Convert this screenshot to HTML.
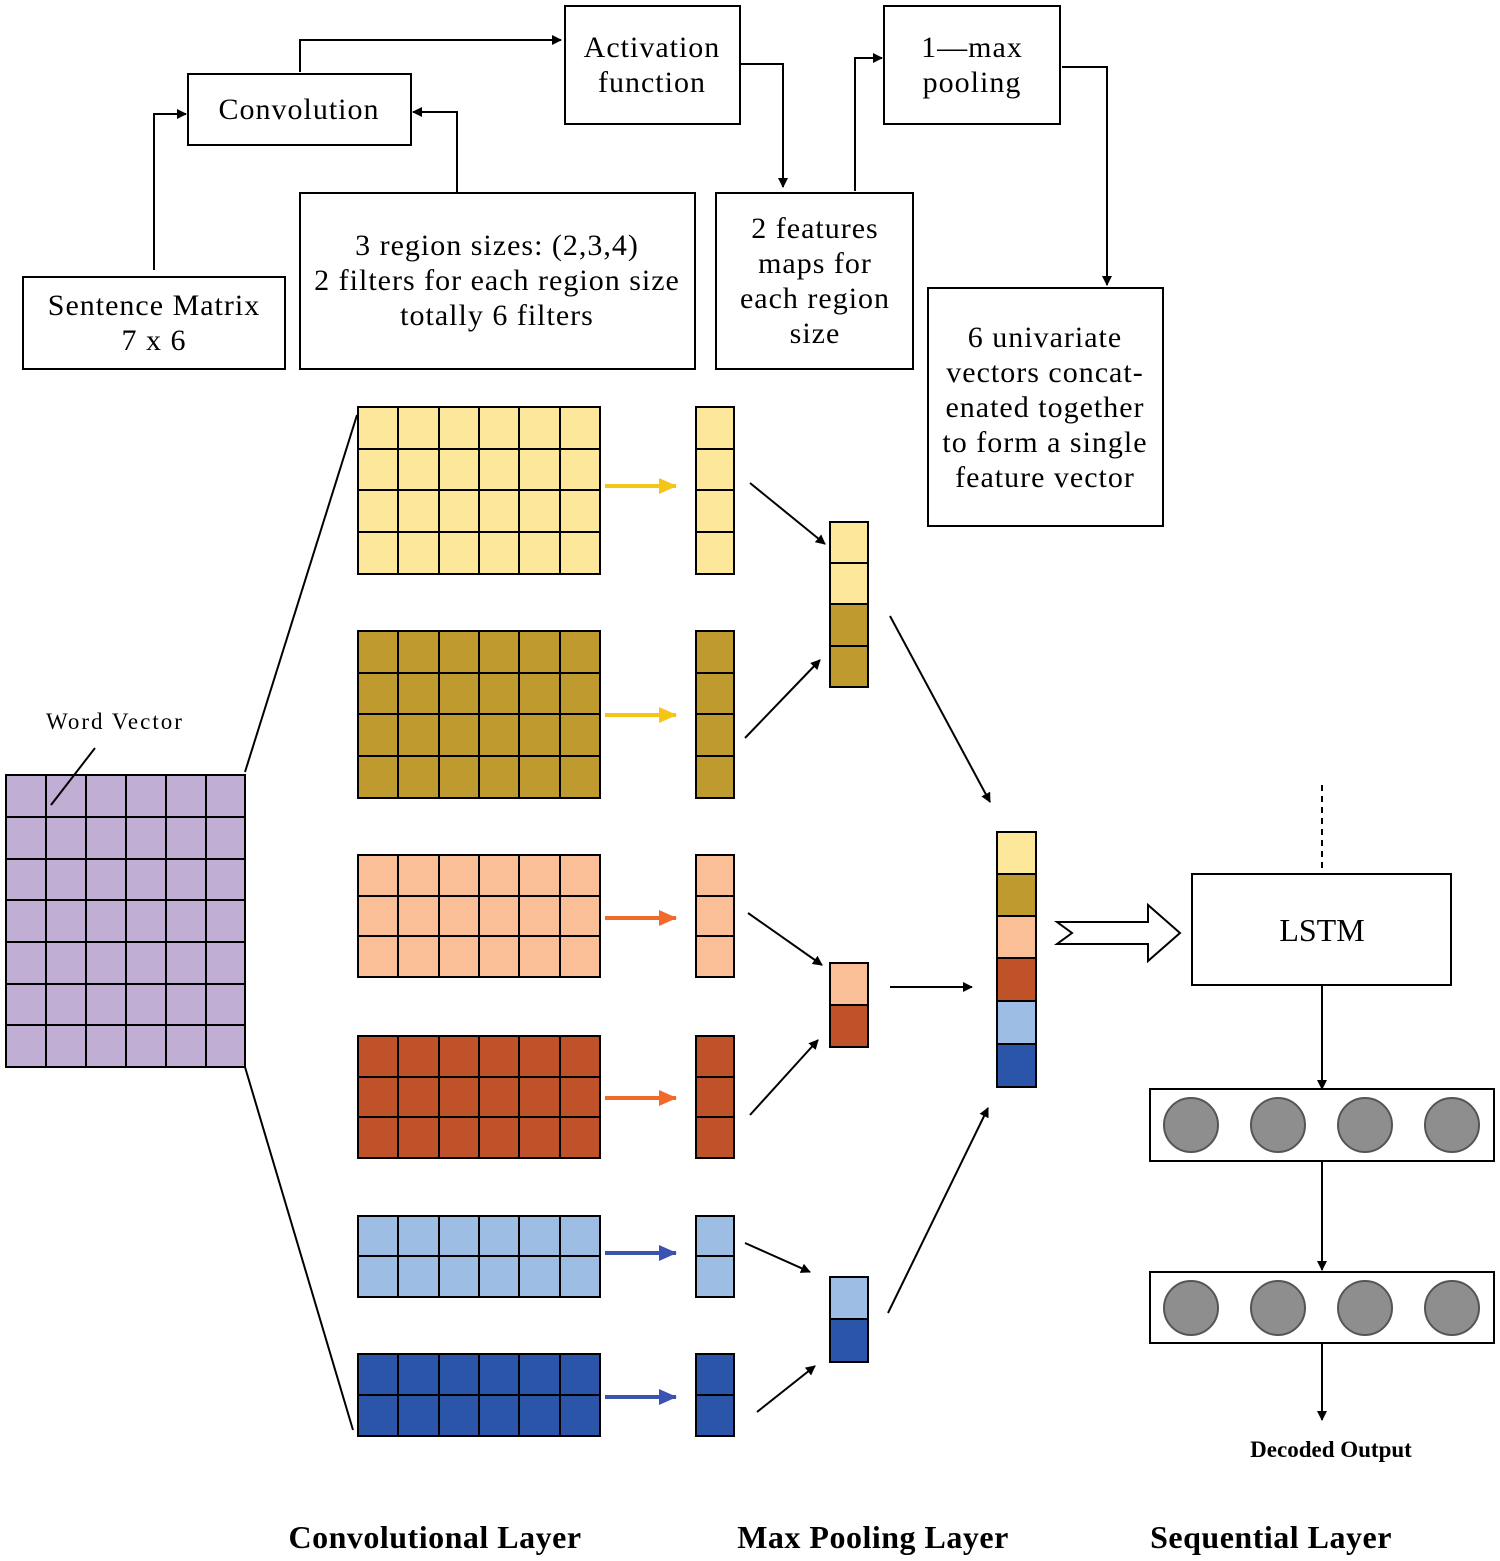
<!DOCTYPE html>
<html><head><meta charset="utf-8"><style>
html,body{margin:0;padding:0;background:#fff}
svg{display:block}
text{font-family:"Liberation Serif",serif;fill:#000}
</style></head><body>
<svg width="1500" height="1561" viewBox="0 0 1500 1561" xmlns="http://www.w3.org/2000/svg">
<defs>
<marker id="a" markerWidth="10" markerHeight="10" refX="9" refY="5" orient="auto" markerUnits="userSpaceOnUse"><path d="M0,0 L10,5 L0,10 z" fill="#000"/></marker>
<marker id="ay" markerWidth="18" markerHeight="16" refX="17" refY="8" orient="auto" markerUnits="userSpaceOnUse"><path d="M0,0 L18,8 L0,16 z" fill="#f5c518"/></marker>
<marker id="ao" markerWidth="18" markerHeight="16" refX="17" refY="8" orient="auto" markerUnits="userSpaceOnUse"><path d="M0,0 L18,8 L0,16 z" fill="#f26a2a"/></marker>
<marker id="ab" markerWidth="18" markerHeight="16" refX="17" refY="8" orient="auto" markerUnits="userSpaceOnUse"><path d="M0,0 L18,8 L0,16 z" fill="#3a52b0"/></marker>
</defs>
<g fill="#fff" stroke="#000" stroke-width="2">
<rect x="188" y="74" width="223" height="71"/>
<rect x="565" y="6" width="175" height="118"/>
<rect x="884" y="6" width="176" height="118"/>
<rect x="23" y="277" width="262" height="92"/>
<rect x="300" y="193" width="395" height="176"/>
<rect x="716" y="193" width="197" height="176"/>
<rect x="928" y="288" width="235" height="238"/>
</g>
<g font-size="30" text-anchor="middle" letter-spacing="1">
<text x="299" y="119">Convolution</text>
<text x="652" y="57">Activation</text><text x="652" y="92">function</text>
<text x="972" y="57">1—max</text><text x="972" y="92">pooling</text>
<text x="154" y="315">Sentence Matrix</text><text x="154" y="350">7 x 6</text>
<text x="497" y="255">3 region sizes: (2,3,4)</text><text x="497" y="290">2 filters for each region size</text><text x="497" y="325">totally 6 filters</text>
<text x="815" y="238">2 features</text><text x="815" y="273">maps for</text><text x="815" y="308">each region</text><text x="815" y="343">size</text>
<text x="1045" y="347">6 univariate</text><text x="1045" y="382">vectors concat-</text><text x="1045" y="417">enated  together</text><text x="1045" y="452">to form a single</text><text x="1045" y="487">feature vector</text>
</g>
<g fill="none" stroke="#000" stroke-width="2">
<path d="M154,270 V114 H186" marker-end="url(#a)"/>
<path d="M457,193 V112 H413" marker-end="url(#a)"/>
<path d="M300,72 V40 H561" marker-end="url(#a)"/>
<path d="M740,64 H783 V187" marker-end="url(#a)"/>
<path d="M855,191 V58 H882" marker-end="url(#a)"/>
<path d="M1062,67 H1107 V285" marker-end="url(#a)"/>
<path d="M245,772 L357,415"/><path d="M245,1067 L353,1430"/>
</g>
<text x="46" y="729" font-size="23" letter-spacing="2">Word Vector</text>
<!-- word matrix -->
<g stroke="#000" stroke-width="2">
<rect x="6" y="775" width="239" height="292" fill="#c0aed4"/>
<path d="M46,775V1067M86,775V1067M126,775V1067M166,775V1067M206,775V1067M6,817H245M6,859H245M6,900H245M6,942H245M6,984H245M6,1025H245" fill="none"/>
<path d="M95,748 L51,805" fill="none"/>
</g>
<g stroke="#000" stroke-width="2">
<rect x="358" y="407" width="242" height="167" fill="#fde79a"/>
<path d="M398,407V574M439,407V574M479,407V574M519,407V574M560,407V574M358,449H600M358,490H600M358,532H600" fill="none"/>
<rect x="696" y="407" width="38" height="167" fill="#fde79a"/>
<path d="M696,449H734M696,490H734M696,532H734"/>
<rect x="358" y="631" width="242" height="167" fill="#bf9a2e"/>
<path d="M398,631V798M439,631V798M479,631V798M519,631V798M560,631V798M358,673H600M358,714H600M358,756H600" fill="none"/>
<rect x="696" y="631" width="38" height="167" fill="#bf9a2e"/>
<path d="M696,673H734M696,714H734M696,756H734"/>
<rect x="358" y="855" width="242" height="122" fill="#fbbf97"/>
<path d="M398,855V977M439,855V977M479,855V977M519,855V977M560,855V977M358,896H600M358,936H600" fill="none"/>
<rect x="696" y="855" width="38" height="122" fill="#fbbf97"/>
<path d="M696,896H734M696,936H734"/>
<rect x="358" y="1036" width="242" height="122" fill="#c0522a"/>
<path d="M398,1036V1158M439,1036V1158M479,1036V1158M519,1036V1158M560,1036V1158M358,1077H600M358,1117H600" fill="none"/>
<rect x="696" y="1036" width="38" height="122" fill="#c0522a"/>
<path d="M696,1077H734M696,1117H734"/>
<rect x="358" y="1216" width="242" height="81" fill="#9dbde4"/>
<path d="M398,1216V1297M439,1216V1297M479,1216V1297M519,1216V1297M560,1216V1297M358,1256H600" fill="none"/>
<rect x="696" y="1216" width="38" height="81" fill="#9dbde4"/>
<path d="M696,1256H734"/>
<rect x="358" y="1354" width="242" height="82" fill="#2a55a8"/>
<path d="M398,1354V1436M439,1354V1436M479,1354V1436M519,1354V1436M560,1354V1436M358,1395H600" fill="none"/>
<rect x="696" y="1354" width="38" height="82" fill="#2a55a8"/>
<path d="M696,1395H734"/>
<rect x="830" y="522" width="38" height="41" fill="#fde79a"/><rect x="830" y="563" width="38" height="41" fill="#fde79a"/>
<rect x="830" y="604" width="38" height="42" fill="#bf9a2e"/><rect x="830" y="646" width="38" height="41" fill="#bf9a2e"/>
<rect x="830" y="963" width="38" height="42" fill="#fbbf97"/><rect x="830" y="1005" width="38" height="42" fill="#c0522a"/>
<rect x="830" y="1277" width="38" height="42" fill="#9dbde4"/><rect x="830" y="1319" width="38" height="43" fill="#2a55a8"/>
<rect x="997" y="832" width="39" height="42" fill="#fde79a"/>
<rect x="997" y="874" width="39" height="42" fill="#bf9a2e"/>
<rect x="997" y="916" width="39" height="42" fill="#fbbf97"/>
<rect x="997" y="958" width="39" height="43" fill="#c0522a"/>
<rect x="997" y="1001" width="39" height="43" fill="#9dbde4"/>
<rect x="997" y="1044" width="39" height="43" fill="#2a55a8"/>
</g>
<g stroke-width="4" fill="none">
<path d="M605,486H676" stroke="#f5c518" marker-end="url(#ay)"/>
<path d="M605,715H676" stroke="#f5c518" marker-end="url(#ay)"/>
<path d="M605,918H676" stroke="#f26a2a" marker-end="url(#ao)"/>
<path d="M605,1098H676" stroke="#f26a2a" marker-end="url(#ao)"/>
<path d="M605,1253H676" stroke="#3a52b0" marker-end="url(#ab)"/>
<path d="M605,1397H676" stroke="#3a52b0" marker-end="url(#ab)"/>
</g>
<g stroke="#000" stroke-width="2" fill="none">
<path d="M750,483L825,544" marker-end="url(#a)"/>
<path d="M745,738L820,660" marker-end="url(#a)"/>
<path d="M748,913L822,965" marker-end="url(#a)"/>
<path d="M750,1115L818,1040" marker-end="url(#a)"/>
<path d="M745,1243L810,1272" marker-end="url(#a)"/>
<path d="M757,1412L815,1366" marker-end="url(#a)"/>
<path d="M890,616L990,802" marker-end="url(#a)"/>
<path d="M890,987L972,987" marker-end="url(#a)"/>
<path d="M888,1313L988,1108" marker-end="url(#a)"/>
<path d="M1057,922H1148V905L1180,933L1148,961V944H1057L1072,933Z" fill="#fff"/>
<rect x="1192" y="874" width="259" height="111" fill="#fff"/>
<path d="M1322,785V870" stroke-dasharray="6,5"/>
<path d="M1322,985V1089" marker-end="url(#a)"/>
<rect x="1150" y="1089" width="344" height="72" fill="#fff"/>
<path d="M1322,1161V1270" marker-end="url(#a)"/>
<rect x="1150" y="1272" width="344" height="71" fill="#fff"/>
<path d="M1322,1343V1420" marker-end="url(#a)"/>
</g>
<g fill="#8e8e8e" stroke="#555" stroke-width="2">
<circle cx="1191" cy="1125" r="27"/><circle cx="1278" cy="1125" r="27"/><circle cx="1365" cy="1125" r="27"/><circle cx="1452" cy="1125" r="27"/>
<circle cx="1191" cy="1308" r="27"/><circle cx="1278" cy="1308" r="27"/><circle cx="1365" cy="1308" r="27"/><circle cx="1452" cy="1308" r="27"/>
</g>
<text x="1322" y="941" font-size="32" text-anchor="middle">LSTM</text>
<text x="1331" y="1457" font-size="23" font-weight="bold" text-anchor="middle">Decoded Output</text>
<g font-size="32" font-weight="bold" text-anchor="middle" letter-spacing="0.5">
<text x="435" y="1548">Convolutional Layer</text>
<text x="873" y="1548">Max Pooling Layer</text>
<text x="1271" y="1548">Sequential Layer</text>
</g>
</svg>
</body></html>
